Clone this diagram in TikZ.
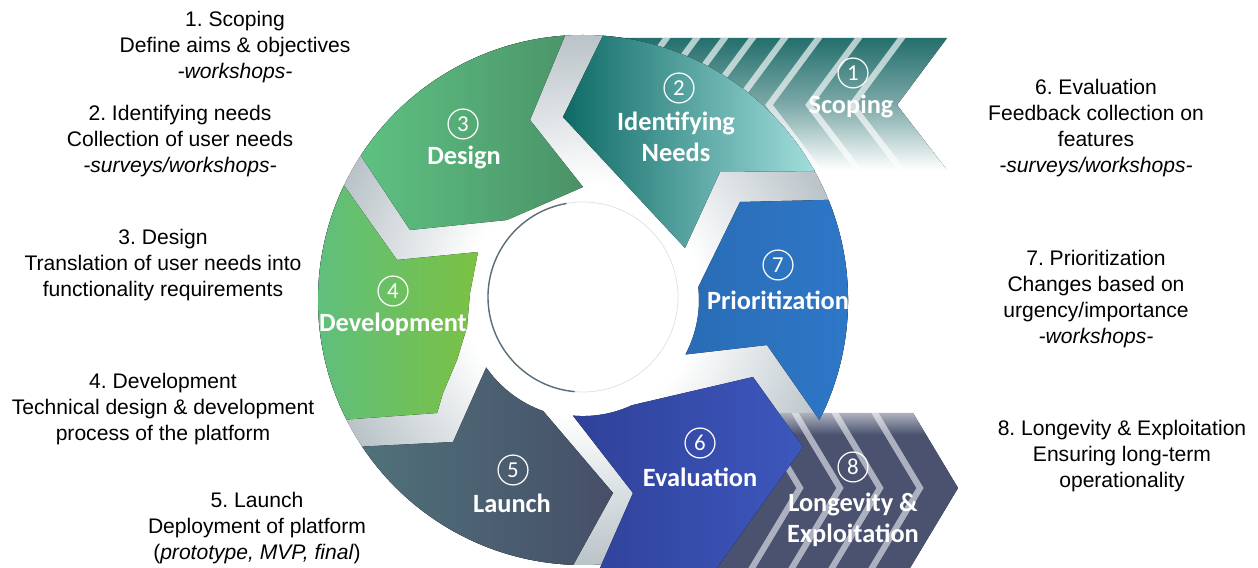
\documentclass[tikz,border=0pt]{standalone}
\usepackage{fontspec}
\setmainfont{Liberation Sans}
\newfontfamily\segfont{Carlito}
\frenchspacing

\definecolor{scopeteal}{HTML}{246F6D}
\definecolor{needsdark}{HTML}{0E6A66}
\definecolor{needsmid}{HTML}{2FA6A2}
\definecolor{needslight}{HTML}{A2DEDC}
\definecolor{designlight}{HTML}{5EC181}
\definecolor{designdark}{HTML}{4A9268}
\definecolor{devgreen}{HTML}{5DBF80}
\definecolor{devlime}{HTML}{7BC143}
\definecolor{launchteal}{HTML}{50717A}
\definecolor{launchslate}{HTML}{464F68}
\definecolor{evaldark}{HTML}{2F4199}
\definecolor{evalblue}{HTML}{3D57BD}
\definecolor{prioblue}{HTML}{2E78C9}
\definecolor{longslate}{HTML}{4A526F}
\definecolor{gapgray}{HTML}{B9C3C8}
\definecolor{rimgray}{HTML}{5A6E7A}

\pgfdeclareradialshading{ringshade}{\pgfpoint{0bp}{0bp}}{color(0bp)=(white); color(11bp)=(white); color(25bp)=(gapgray); color(50bp)=(gapgray)}
\pgfdeclareverticalshading{longshade}{100bp}{color(0bp)=(longslate); color(68bp)=(longslate); color(75bp)=(longslate!45!white); color(100bp)=(longslate!45!white)}

\tikzset{
  num/.style={circle,draw=white,line width=0.7pt,text=white,inner sep=0pt,
    minimum size=17pt,font=\segfont\fontsize{13}{13}\selectfont},
  lbl/.style={text=white,align=center,inner sep=0pt,
    font=\segfont\bfseries\fontsize{15}{17.6}\selectfont},
  note/.style={align=center,inner sep=0pt,font=\fontsize{12}{14.7}\selectfont},
  stripe/.style={white,line width=3.5pt,opacity=.65}
}

\begin{document}
\begin{tikzpicture}[x=0.02cm,y=0.02cm]
  \useasboundingbox (0,0) rectangle (1258,568);

  % ring background
  \fill[shading=ringshade] (583,268) circle[radius=265];

  % scoping chevrons
  \begin{scope}
    \clip (620,530) -- (947,530) -- (897,463) -- (947,398) -- (700,398) -- cycle;
    \fill[top color=scopeteal,bottom color=white,middle color=scopeteal!60!white] (620,398) rectangle (947,530);
    \foreach \o in {45,88,128,162,194,222,250,280}
      \draw[stripe] ({954-\o},540) -- ({897-\o},463) -- ({954-\o},388);
  \end{scope}

  % longevity chevrons
  \begin{scope}
    \clip (690,155) -- (913,155) -- (958,80) -- (910,0) -- (690,0) -- cycle;
    \fill[shading=longshade] (690,0) rectangle (958,155);
    \foreach \o in {38,78,118,158,198,238}
      \draw[stripe,opacity=.55] ({907-\o},165) -- ({958-\o},80) -- ({904-\o},-10);
  \end{scope}

  % ring segments
  \fill[left color=needsdark,middle color=needsmid,right color=needslight] (602.9,532.3) arc[start angle=85.7,end angle=29.1,radius=265]
    -- (720,396) -- (685,320) -- (563,451) -- cycle;
  \fill[left color=designlight,right color=designdark] (565,532.4) arc[start angle=93.9,end angle=147,radius=265]
    -- (410,338) -- (507,348) -- (583,381) -- (530,448) -- cycle;
  \fill[left color=devgreen,right color=devlime] (346.5,148.5) arc[start angle=206.8,end angle=154.4,radius=265]
    -- (397,308) -- (478,316) -- (470,275) -- (467,241) -- (457,208) -- (443,175) -- (437,155) -- cycle;
  \fill[left color=launchteal,right color=launchslate] (573.3,3.2) arc[start angle=267.9,end angle=213.6,radius=265]
    -- (453,126) -- (486.2,200.5) arc[start angle=214.9,end angle=250.3,radius=118] -- (613,75) -- cycle;
  \fill[left color=prioblue!90!black,right color=prioblue] (740,366) -- (828.4,368.1) arc[start angle=22.2,end angle=-26.9,radius=265]
    -- (767,223) -- (685.4,213.5) arc[start angle=-28,end angle=6.4,radius=116] -- cycle;
  \fill[left color=evaldark,right color=evalblue] (572.9,152.4) arc[start angle=265,end angle=295,radius=116]
    -- (753,191) -- (803,121) -- (717,0) -- (600,0) -- (633,75) -- cycle;

  % centre
  \fill[white] (583,271) circle[radius=95];
  \draw[black!12] (583,271) circle[radius=95];
  \draw[rimgray,line width=0.8pt] (583,271) ++(100:95) arc[start angle=100,end angle=265,radius=95];

  % step labels
  \node[num] (c1) at (853,495) {1};
  \node[lbl] (s1) at (851,462) {Scoping};
  \node[num] (c2) at (679,480) {2};
  \node[lbl] (s2) at (676,431) {Identifying\\Needs};
  \node[num] (c3) at (463,444) {3};
  \node[lbl] (s3) at (464,411) {Design};
  \node[num] (c4) at (393,277) {4};
  \node[lbl] (s4) at (393,244) {Development};
  \node[num] (c5) at (513,98) {5};
  \node[lbl] (s5) at (512,65) {Launch};
  \node[num] (c6) at (700,125) {6};
  \node[lbl] (s6) at (700,91) {Evaluation};
  \node[num] (c7) at (778,303) {7};
  \node[lbl] (s7) at (778,268) {Prioritization};
  \node[num] (c8) at (853,101) {8};
  \node[lbl] (s8) at (853,48) {Longevity \&\\Exploitation};

  % descriptions
  \node[note] (n1) at (235,521) {1. Scoping\\Define aims \& objectives\\\textit{-workshops-}};
  \node[note] (n2) at (180,427) {2. Identifying needs\\Collection of user needs\\\textit{-surveys/workshops-}};
  \node[note] (n3) at (163,303) {3. Design\\Translation of user needs into\\functionality requirements};
  \node[note] (n4) at (163,159) {4. Development\\Technical design \& development\\process of the platform};
  \node[note] (n5) at (257,40) {5. Launch\\Deployment of platform\\(\textit{prototype, MVP, final})};
  \node[note] (n6) at (1096,440) {6. Evaluation\\Feedback collection on\\features\\\textit{-surveys/workshops-}};
  \node[note] (n7) at (1096,269) {7. Prioritization\\Changes based on\\urgency/importance\\\textit{-workshops-}};
  \node[note] (n8) at (1122,112) {8. Longevity \& Exploitation\\Ensuring long-term\\operationality};
\end{tikzpicture}
\end{document}
